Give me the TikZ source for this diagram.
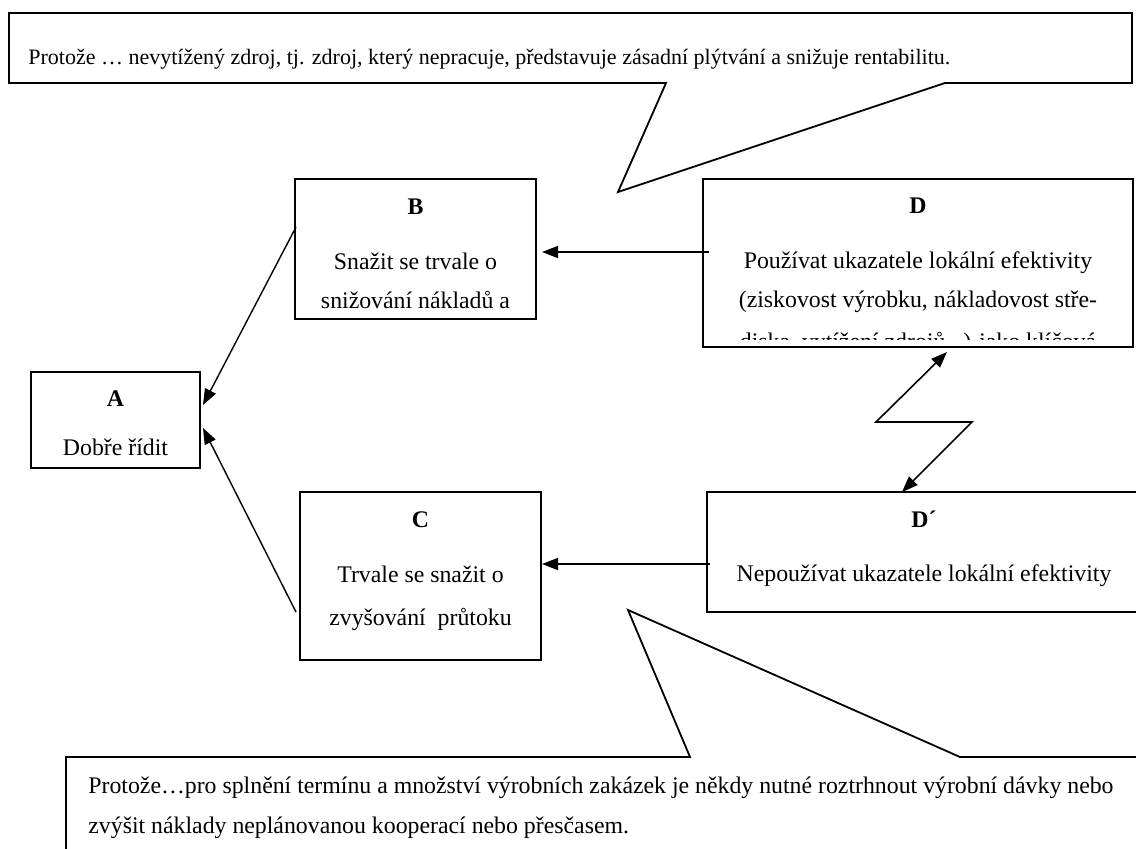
\documentclass[tikz,border=0pt]{standalone}
\usepackage{fontspec}
\setmainfont{Liberation Serif}
\usetikzlibrary{arrows.meta,calc,fit}
\begin{document}
\begin{tikzpicture}[x=0.5pt,y=-0.5pt,
  box/.style={draw,line width=0.9pt,inner sep=0pt,outer sep=0pt},
  ttl/.style={font=\fontsize{11.9}{14}\selectfont\bfseries,anchor=base,inner sep=0pt},
  txt/.style={font=\fontsize{11.9}{14}\selectfont,anchor=base,inner sep=0pt},
  ltxt/.style={font=\fontsize{11.9}{14}\selectfont,anchor=base west,inner sep=0pt},
  arr/.style={-{Triangle[length=8pt,width=6pt]},line width=0.8pt},
  darr/.style={{Triangle[length=8pt,width=6pt]}-{Triangle[length=8pt,width=6pt]},line width=0.8pt},
  call/.style={line width=0.9pt,line join=miter}]
\useasboundingbox (0,0) rectangle (1136,848);
\clip (0,0) rectangle (1136,848);

% top callout
\draw[call] (9,13) -- (1132,13) -- (1132,83) -- (945,83) -- (618,192) -- (666,83) -- (9,83) -- cycle;
\node[font=\fontsize{11}{13}\selectfont,anchor=base west,inner sep=0pt] (top) at (28,64)
  {Protože … nevytížený zdroj, tj. zdroj, který nepracuje, představuje zásadní plýtvání a snižuje rentabilitu.};

% bottom callout
\draw[call] (66,880) -- (66,757) -- (690,757) -- (628,610) -- (960,757) -- (1160,757);
\node[ltxt] (bot1) at (88,793) {Protože…pro splnění termínu a množství výrobních zakázek je někdy nutné roztrhnout výrobní dávky nebo};
\node[ltxt] (bot2) at (88,833) {zvýšit náklady neplánovanou kooperací nebo přesčasem.};

% boxes
\node[box,fit={(31,372) (200,468)}] (A) {};
\node[box,fit={(295,179) (536,319)}] (B) {};
\node[box,fit={(300,492) (541,660)}] (C) {};
\node[box,fit={(703,179) (1133,347)}] (D) {};
\node[box,fit={(707,492) (1150,612)}] (Dp) {};

% texts
\node[ttl] (At) at (115.5,406) {A};
\node[txt] (A1) at (115.5,455) {Dobře řídit};

\node[ttl] (Bt) at (415.5,214) {B};
\node[txt] (B1) at (415.5,269) {Snažit se trvale o};
\node[txt] (B2) at (415.5,308) {snižování nákladů a};

\node[ttl] (Ct) at (420.5,527) {C};
\node[txt] (C1) at (420.5,582) {Trvale se snažit o};
\node[txt] (C2) at (420.5,625) {zvyšování\ \ průtoku};

\node[ttl] (Dt) at (918,213) {D};
\node[txt] (D1) at (918,268) {Používat ukazatele lokální efektivity};
\node[txt] (D2) at (918,307) {(ziskovost výrobku, nákladovost stře-};
\begin{scope}
  \clip (704,180) rectangle (1132,339);
  \node[txt] (D3) at (918,349) {diska, vytížení zdrojů...) jako klíčová};
\end{scope}

\node[ttl] (Dpt) at (924,527) {D´};
\node[txt] (Dp1) at (924,581) {Nepoužívat ukazatele lokální efektivity};

% helper coordinates
\coordinate (yDB) at (0,252);
\coordinate (yDC) at (0,564);
\coordinate (yB) at (0,227);
\coordinate (yC) at (0,612);
\coordinate (yA1) at (0,405);
\coordinate (yA2) at (0,428);
\coordinate (zx1) at (947,0);
\coordinate (zx2) at (902,0);
\coordinate (z1) at (876,422);
\coordinate (z2) at (972,422);

% connectors
\draw[arr] ($(D.west |- yDB)+(6,0)$) -- ($(B.east |- yDB)+(6,0)$);
\draw[arr] ($(Dp.west |- yDC)+(3,0)$) -- ($(C.east |- yDC)+(1,0)$);
\draw[arr,line width=0.7pt] ($(B.west |- yB)+(1,0)$) -- ($(A.east |- yA1)+(3,0)$);
\draw[arr,line width=0.7pt] ($(C.west |- yC)+(-4,0)$) -- ($(A.east |- yA2)+(3,0)$);
\draw[darr,line join=miter] ($(zx1 |- D.south)+(0,5)$) -- (z1) -- (z2) -- (zx2 |- Dp.north);
\end{tikzpicture}
\end{document}
